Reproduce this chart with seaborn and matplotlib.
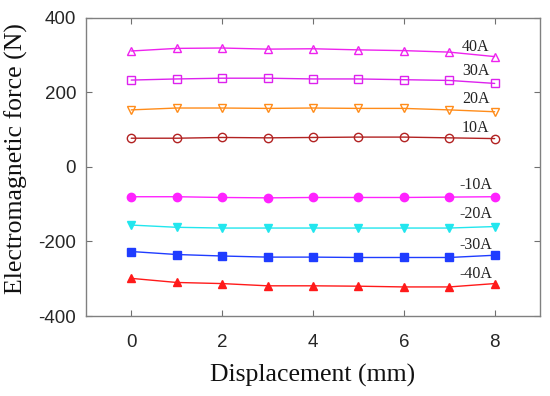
import matplotlib
matplotlib.use("Agg")
import matplotlib.pyplot as plt
import seaborn as sns

# displacement (mm)
disp = [0, 1, 2, 3, 4, 5, 6, 7, 8]

# electromagnetic force (N) per coil current
f_p40 = [311, 318, 319, 316, 317, 314, 312, 308, 296]
f_p30 = [233, 236, 238, 238, 236, 236, 234, 232, 224]
f_p20 = [153, 158, 158, 157, 158, 157, 157, 153, 148]
f_p10 = [77, 77, 79, 78, 79, 80, 80, 78, 76]
f_n10 = [-80, -80, -82, -83, -82, -82, -82, -81, -80]
f_n20 = [-156, -162, -164, -164, -164, -164, -164, -164, -160]
f_n30 = [-227, -235, -239, -242, -242, -243, -243, -243, -237]
f_n40 = [-299, -310, -313, -319, -319, -320, -322, -322, -313]

labels = ["40A", "30A", "20A", "10A", "-10A", "-20A", "-30A", "-40A"]
series = [f_p40, f_p30, f_p20, f_p10, f_n10, f_n20, f_n30, f_n40]
colors = ["#ee22ee", "#dd22ee", "#ff8c1a", "#b22222", "#ff22ff", "#22e6ee", "#1f3cff", "#ff1a1a"]
markers = ["^", "s", "v", "o", "o", "v", "s", "^"]
filled = [False, False, False, False, True, True, True, True]
label_y = [323, 258, 182, 104, -48, -126, -209, -287]

sns.set_theme(style="ticks")
plt.rcParams["font.family"] = ["Liberation Serif", "DejaVu Serif"]
plt.rcParams["axes.unicode_minus"] = False

fig = plt.figure(figsize=(5.5, 3.96), dpi=100)
ax = fig.add_axes([0.156, 0.202, 0.826, 0.753])

for vals, col, mk, fl in zip(series, colors, markers, filled):
    sns.lineplot(
        x=disp, y=vals, ax=ax, color=col, marker=mk, linewidth=1.0,
        markersize=6, markeredgewidth=1.0, markeredgecolor=col,
        markerfacecolor=col if fl else "none", legend=False,
    )

for lab, ly in zip(labels, label_y):
    ax.text(7.58, ly, lab, ha="center", va="center", fontsize=11.5, color="#222222")

ax.set_xlim(-1, 9)
ax.set_ylim(-400, 400)
ax.set_xticks([0, 2, 4, 6, 8])
ax.set_yticks([-400, -200, 0, 200, 400])
ax.tick_params(direction="in", top=True, right=True, length=4, width=0.8,
               color="#707070", labelcolor="#262626", labelsize=13.5)
ax.tick_params(axis="x", pad=13)
ax.tick_params(axis="y", pad=7)
for lab in ax.get_xticklabels() + ax.get_yticklabels():
    lab.set_family(["Liberation Sans", "DejaVu Sans"])
for sp in ax.spines.values():
    sp.set_color("#808080")
    sp.set_linewidth(1.0)

ax.set_xlabel("Displacement (mm)", fontsize=18.5, color="#111111", labelpad=9)
ax.set_ylabel("Electromagnetic force (N)", fontsize=18.5, color="#111111")
ax.yaxis.set_label_coords(-0.128, 0.527)

fig.savefig("out.png", dpi=100)
